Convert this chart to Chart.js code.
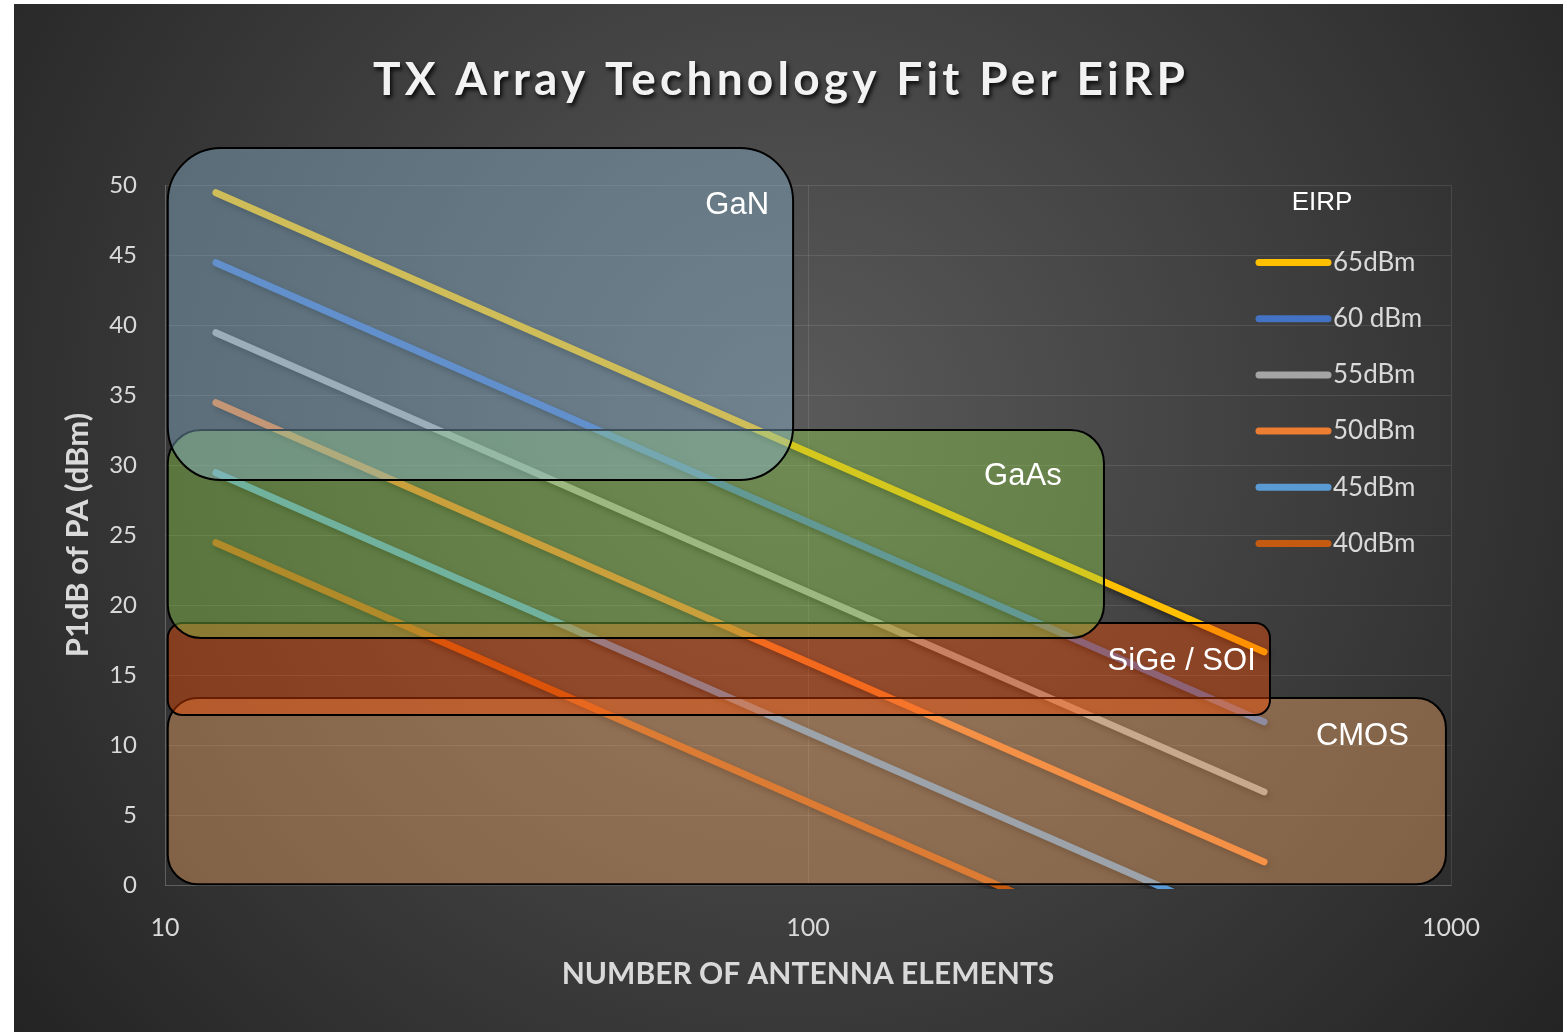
<!DOCTYPE html>
<html><head><meta charset="utf-8">
<script src="https://cdn.jsdelivr.net/npm/chart.js@4.4.1/dist/chart.umd.min.js"></script>
<style>html,body{margin:0;padding:0;background:#fff;} #wrap{width:1567px;height:1032px;}</style>
</head><body><div id="wrap"><canvas id="c" width="1567" height="1032"></canvas></div>
<script>
// ---- data ----
const chartTitle = 'TX Array Technology Fit Per EiRP';
const xAxisTitle = 'NUMBER OF ANTENNA ELEMENTS';
const yAxisTitle = 'P1dB of PA (dBm)';
const legendTitle = 'EIRP';
const xTickValues = [10, 100, 1000];
const seriesLabels = ['65dBm', '60 dBm', '55dBm', '50dBm', '45dBm', '40dBm'];
const antennaElements = [12, 512];
const eirp65 = [49.45, 16.65];
const eirp60 = [44.45, 11.65];
const eirp55 = [39.45, 6.65];
const eirp50 = [34.45, 1.65];
const eirp45 = [29.45, -3.35];
const eirp40 = [24.45, -8.35];
const regionNames = ['CMOS', 'SiGe / SOI', 'GaAs', 'GaN'];
const regionXMin = [10.1, 10.1, 10.1, 10.1];
const regionXMax = [982, 523, 288.6, 94.8];
const regionYMin = [0.05, 12.14, 17.64, 28.93];
const regionYMax = [13.36, 18.71, 32.5, 52.64];
const regionLabelX = [860, 497, 248, 87];
const regionLabelY = [10.64, 16.0, 29.21, 48.57];

// ---- styles ----
const seriesColors = ['#FFC000', '#4472C4', '#A5A5A5', '#ED7D31', '#5B9BD5', '#C55A11'];
const regionFills = ['rgba(255,175,105,0.4)', 'rgba(252,75,0,0.4)', 'rgba(148,212,78,0.4)', 'rgba(140,185,215,0.42)'];
const textColor = '#d9d9d9';

const seriesValues = [eirp65, eirp60, eirp55, eirp50, eirp45, eirp40];
const datasets = seriesValues.map((vals, i) => ({
  label: seriesLabels[i],
  data: antennaElements.map((n, j) => ({ x: n, y: vals[j] })),
  borderColor: seriesColors[i],
  backgroundColor: seriesColors[i],
  borderWidth: 7,
  borderCapStyle: 'round',
  pointRadius: 0,
  tension: 0,
  fill: false,
  clip: 4
}));

const bgPlugin = {
  id: 'bg',
  beforeDraw(chart) {
    const ctx = chart.ctx;
    ctx.save();
    ctx.fillStyle = '#ffffff';
    ctx.fillRect(0, 0, chart.width, chart.height);
    const g = ctx.createRadialGradient(790, 420, 0, 790, 420, 980);
    g.addColorStop(0, '#5a5a5a');
    g.addColorStop(1, '#242424');
    ctx.fillStyle = g;
    ctx.fillRect(14, 4, 1549, 1028);
    ctx.restore();
  }
};

const regionPlugin = {
  id: 'regions',
  beforeDatasetsDraw(chart) {
    const ctx = chart.ctx;
    ctx.save();
    ctx.shadowColor = 'rgba(0,0,0,0.55)';
    ctx.shadowBlur = 6;
    ctx.shadowOffsetX = 2;
    ctx.shadowOffsetY = 3;
  },
  afterDatasetsDraw(chart) {
    const ctx = chart.ctx;
    ctx.restore();
    const x = chart.scales.x, y = chart.scales.y;
    ctx.save();
    regionNames.forEach((name, i) => {
      const l = x.getPixelForValue(regionXMin[i]);
      const r = x.getPixelForValue(regionXMax[i]);
      const t = y.getPixelForValue(regionYMax[i]);
      const b = y.getPixelForValue(regionYMin[i]);
      const rad = Math.min(r - l, b - t) * 0.16;
      ctx.beginPath();
      ctx.roundRect(l, t, r - l, b - t, rad);
      ctx.fillStyle = regionFills[i];
      ctx.fill();
      ctx.lineWidth = 2;
      ctx.strokeStyle = '#000000';
      ctx.stroke();
    });
    ctx.fillStyle = '#ffffff';
    ctx.font = '31px "Liberation Sans", Arial, sans-serif';
    ctx.textAlign = 'right';
    ctx.textBaseline = 'middle';
    regionNames.forEach((name, i) => {
      ctx.fillText(name, x.getPixelForValue(regionLabelX[i]), y.getPixelForValue(regionLabelY[i]));
    });
    ctx.restore();
  },
  afterDraw(chart) {
    const ctx = chart.ctx;
    // title
    ctx.save();
    ctx.font = 'bold 46px Lato, "Open Sans", sans-serif';
    const w = ctx.measureText(chartTitle).width;
    const target = 812;
    const ls = (target - w) / (chartTitle.length - 1);
    ctx.letterSpacing = ls + 'px';
    ctx.fillStyle = '#f2f2f2';
    ctx.textAlign = 'left';
    ctx.textBaseline = 'alphabetic';
    ctx.shadowColor = 'rgba(0,0,0,0.85)';
    ctx.shadowBlur = 4;
    ctx.shadowOffsetX = 2;
    ctx.shadowOffsetY = 3;
    ctx.fillText(chartTitle, 373, 95);
    ctx.restore();

    // legend
    ctx.save();
    ctx.fillStyle = '#ffffff';
    ctx.font = '26px "Liberation Sans", Arial, sans-serif';
    ctx.textAlign = 'center';
    ctx.textBaseline = 'middle';
    ctx.fillText(legendTitle, 1322, 203);
    chart.data.datasets.forEach((ds, i) => {
      const ly = 262.5 + i * 56.2;
      ctx.beginPath();
      ctx.moveTo(1259, ly);
      ctx.lineTo(1328, ly);
      ctx.lineWidth = 7;
      ctx.lineCap = 'round';
      ctx.strokeStyle = ds.borderColor;
      ctx.stroke();
      ctx.fillStyle = textColor;
      ctx.font = '26px Lato, "Open Sans", sans-serif';
      ctx.textAlign = 'left';
      ctx.fillText(ds.label, 1333, ly);
    });
    ctx.restore();
  }
};

new Chart(document.getElementById('c'), {
  type: 'line',
  data: { datasets },
  options: {
    responsive: false,
    animation: false,
    layout: { padding: { left: 14, right: 116, top: 185, bottom: 0 } },
    plugins: { legend: { display: false }, tooltip: { enabled: false }, title: { display: false } },
    scales: {
      x: {
        type: 'logarithmic',
        min: 10,
        max: 1000,
        afterBuildTicks: s => { s.ticks = xTickValues.map(v => ({ value: v })); },
        afterFit: s => { s.height = 147; },
        ticks: {
          color: textColor,
          font: { family: 'Lato', size: 25 },
          padding: 28,
          maxRotation: 0,
          autoSkip: false,
          callback: v => String(v)
        },
        grid: { color: 'rgba(255,255,255,0.1)', drawTicks: false, lineWidth: 1 },
        border: { display: true, color: 'rgba(255,255,255,0.15)' },
        title: {
          display: true, text: xAxisTitle, color: textColor,
          font: { family: 'Lato', size: 30, weight: 'bold' },
          padding: { top: 0, bottom: 40 }
        }
      },
      y: {
        min: 0,
        max: 50,
        afterFit: s => { s.width = 151; },
        ticks: {
          stepSize: 5,
          color: textColor,
          font: { family: 'Lato', size: 24 },
          padding: 28
        },
        grid: { color: 'rgba(255,255,255,0.1)', drawTicks: false, lineWidth: 1 },
        border: { display: true, color: 'rgba(255,255,255,0.15)' },
        title: {
          display: true, text: yAxisTitle, color: textColor,
          font: { family: 'Lato', size: 31, weight: 'bold' },
          padding: { top: 45, bottom: 0 }
        }
      }
    }
  },
  plugins: [bgPlugin, regionPlugin]
});
</script>
</body></html>
